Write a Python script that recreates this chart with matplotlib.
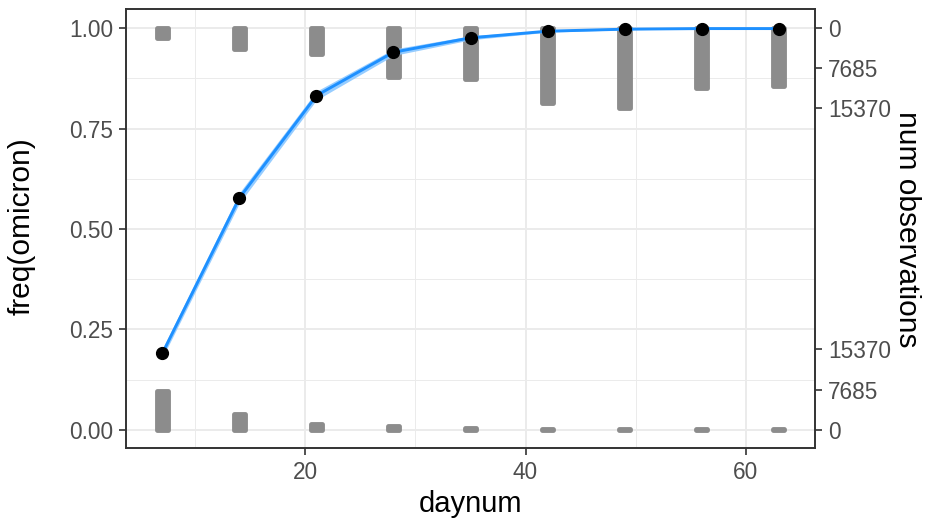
import matplotlib
matplotlib.use("Agg")
import matplotlib.pyplot as plt
import numpy as np

plt.rcParams['font.family'] = ['Liberation Sans', 'DejaVu Sans']
plt.rcParams['path.simplify'] = False

# ---- data ----
daynum = [7, 14, 21, 28, 35, 42, 49, 56, 63]
freq_omicron = [0.190, 0.577, 0.832, 0.940, 0.976, 0.9925, 0.9975, 0.999, 0.999]
fit_lower = [0.179, 0.564, 0.821, 0.932, 0.971, 0.990, 0.9960, 0.998, 0.998]
fit_upper = [0.201, 0.590, 0.843, 0.948, 0.981, 0.995, 0.9990, 1.000, 1.000]
n_omicron = [1860, 4040, 5000, 9270, 9710, 14240, 15370, 11370, 11040]
n_other = [7350, 2950, 1035, 650, 270, 110, 60, 50, 50]
count_ticks = [0, 7685, 15370]
count_tick_labels = ["0", "7685", "15370"]
max_count = 15370
bar_span = 0.2   # fraction of the freq axis used by the largest count

scale = bar_span / max_count

W, H = 926, 522
fig = plt.figure(figsize=(W / 100, H / 100), dpi=100)
L, R, T, B = 126, 815, 9.3, 448
ax = fig.add_axes([L / W, 1 - B / H, (R - L) / W, (B - T) / H])

grey_bar = "#8C8C8C"
blue = "#1E90FF"
ribbon = "#8CC8FF"

# bars: omicron counts hanging from 1, others rising from 0
ax.bar(daynum, [-c * scale for c in n_omicron], bottom=1.0, width=1.05,
       color=grey_bar, edgecolor=grey_bar, linewidth=3.5, joinstyle='round', zorder=2)
ax.bar(daynum, [c * scale for c in n_other], bottom=0.0, width=1.05,
       color=grey_bar, edgecolor=grey_bar, linewidth=3.5, joinstyle='round', zorder=2)

# fitted line with ribbon
ax.fill_between(daynum, fit_lower, fit_upper, color=ribbon, alpha=0.9, linewidth=0, zorder=3)
ax.plot(daynum, freq_omicron, color=blue, linewidth=2.1, zorder=4)
ax.plot(daynum, freq_omicron, 'o', color='black', markersize=8.5, zorder=5)

ax.set_xlim(3.7, 66.3)
ax.set_ylim(-0.0455, 1.047)
ax.set_xticks([20, 40, 60])
ax.set_xticks([10, 30, 50], minor=True)
ax.set_yticks([0, 0.25, 0.5, 0.75, 1.0])
ax.set_yticklabels(["0.00", "0.25", "0.50", "0.75", "1.00"])
ax.set_yticks([0.125, 0.375, 0.625, 0.875], minor=True)

ax.grid(which='major', color='#EBEBEB', linewidth=1.4, zorder=0)
ax.grid(which='minor', color='#EBEBEB', linewidth=0.7, zorder=0)
ax.set_axisbelow(True)

for sp in ax.spines.values():
    sp.set_color('#333333')
    sp.set_linewidth(1.4)

tick_kw = dict(which='major', length=5.3, width=1.2, color='#333333',
               labelsize=16.3, labelcolor='#4D4D4D', pad=4)
ax.tick_params(**tick_kw)
ax.tick_params(which='minor', length=0)

# secondary axis with counts
ax2 = ax.twinx()
ax2.set_ylim(ax.get_ylim())
top_pos = [1.0 - c * scale for c in count_ticks]
bot_pos = [c * scale for c in count_ticks]
ax2.set_yticks(top_pos + bot_pos)
ax2.set_yticklabels(count_tick_labels + count_tick_labels)
ax2.tick_params(**tick_kw)
for sp in ax2.spines.values():
    sp.set_visible(False)

# axis titles
fig.text(470.5 / W, 1 - 511.5 / H, "daynum", fontsize=21, ha='center', va='baseline')
fig.text(22 / W, 1 - 226 / H, "freq(omicron)", fontsize=21.5, rotation=90,
         ha='center', va='center')
fig.text(907 / W, 1 - 229 / H, "num observations", fontsize=21.5, rotation=-90,
         ha='center', va='center')

fig.savefig("out.png", dpi=100)
